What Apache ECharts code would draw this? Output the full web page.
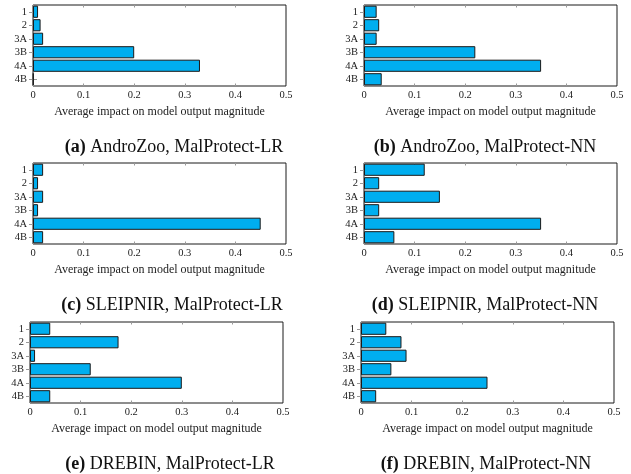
<!DOCTYPE html>
<html>
<head>
<meta charset="utf-8">
<script src="https://cdn.jsdelivr.net/npm/echarts@6/dist/echarts.min.js"></script>
<style>
html,body{margin:0;padding:0;background:#fff;}
#chart{width:631px;height:474px;}
</style>
</head>
<body>
<div id="chart"></div>
<script>
// Categories (top to bottom)
var categories = ['1', '2', '3A', '3B', '4A', '4B'];
var xTicks = [0, 0.1, 0.2, 0.3, 0.4, 0.5];

// Series values per panel
var androZooLR  = [0.010, 0.015, 0.020, 0.200, 0.330, 0.001];
var androZooNN  = [0.025, 0.030, 0.025, 0.220, 0.350, 0.035];
var sleipnirLR  = [0.020, 0.010, 0.020, 0.010, 0.450, 0.020];
var sleipnirNN  = [0.120, 0.030, 0.150, 0.030, 0.350, 0.060];
var drebinLR    = [0.040, 0.175, 0.010, 0.120, 0.300, 0.040];
var drebinNN    = [0.050, 0.080, 0.090, 0.060, 0.250, 0.030];

var panelLetters = ['(a)', '(b)', '(c)', '(d)', '(e)', '(f)'];
var panelCaptions = ['AndroZoo, MalProtect-LR', 'AndroZoo, MalProtect-NN',
                     'SLEIPNIR, MalProtect-LR', 'SLEIPNIR, MalProtect-NN',
                     'DREBIN, MalProtect-LR', 'DREBIN, MalProtect-NN'];
var axisName = 'Average impact on model output magnitude';

var panelData = [androZooLR, androZooNN, sleipnirLR, sleipnirNN, drebinLR, drebinNN];

// Layout (pixels)
var layouts = [
  {left: 33,  top: 5,   cap: 174},
  {left: 364, top: 5,   cap: 485},
  {left: 33,  top: 163, cap: 172},
  {left: 364, top: 163, cap: 485},
  {left: 30,  top: 322, cap: 170},
  {left: 361, top: 322, cap: 486}
];
var W = 253, H = 81;
var FONT = '"Liberation Serif", "DejaVu Serif", serif';

var grids = [], xAxes = [], yAxes = [], series = [], titles = [];
layouts.forEach(function (l, i) {
  grids.push({left: l.left, top: l.top, width: W, height: H, show: true,
    borderColor: '#1a1a1a', borderWidth: 1, backgroundColor: 'transparent', containLabel: false});
  // bottom x axis
  xAxes.push({type: 'value', gridIndex: i, min: xTicks[0], max: xTicks[xTicks.length - 1], interval: 0.1,
    position: 'bottom',
    axisLine: {show: false}, splitLine: {show: false},
    axisTick: {show: true, inside: true, length: 2.5, lineStyle: {color: '#999'}},
    axisLabel: {show: true, margin: 4, color: '#222', fontFamily: FONT, fontSize: 10.5},
    name: axisName, nameLocation: 'middle', nameGap: 20,
    nameTextStyle: {color: '#222', fontFamily: FONT, fontSize: 12}
  });
  // top x axis (ticks only)
  xAxes.push({type: 'value', gridIndex: i, min: xTicks[0], max: xTicks[xTicks.length - 1], interval: 0.1,
    position: 'top',
    axisLine: {show: false}, splitLine: {show: false},
    axisTick: {show: true, inside: true, length: 2.5, lineStyle: {color: '#999'}},
    axisLabel: {show: false}
  });
  // left y axis
  yAxes.push({type: 'category', gridIndex: i, data: categories, inverse: true, position: 'left',
    axisLine: {show: false}, splitLine: {show: false},
    axisTick: {show: true, alignWithLabel: true, interval: 0, length: 4, lineStyle: {color: '#999'}},
    axisLabel: {show: true, interval: 0, hideOverlap: false, margin: 6, color: '#222', fontFamily: FONT, fontSize: 10.5, lineHeight: 11}
  });
  // right y axis (ticks only)
  yAxes.push({type: 'category', gridIndex: i, data: categories, inverse: true, position: 'right',
    axisLine: {show: false}, splitLine: {show: false},
    axisTick: {show: true, alignWithLabel: true, interval: 0, length: 4, lineStyle: {color: '#999'}},
    axisLabel: {show: false}
  });
  series.push({type: 'bar', xAxisIndex: 2 * i, yAxisIndex: 2 * i, data: panelData[i],
    barCategoryGap: '10%',
    itemStyle: {color: '#00AEEF', borderColor: '#1a1a1a', borderWidth: 1},
    silent: true, animation: false
  });
  titles.push({
    text: '{b|' + panelLetters[i] + '} ' + panelCaptions[i],
    left: l.cap, top: l.top + 133, textAlign: 'center', padding: 0,
    textStyle: {fontFamily: FONT, fontSize: 18, fontWeight: 'normal', color: '#111',
      rich: {b: {fontFamily: FONT, fontSize: 18, fontWeight: 'bold', color: '#111'}}}
  });
});

var chart = echarts.init(document.getElementById('chart'), null, {renderer: 'canvas'});
chart.setOption({
  animation: false,
  backgroundColor: '#fff',
  title: titles,
  grid: grids,
  xAxis: xAxes,
  yAxis: yAxes,
  series: series
});
</script>
</body>
</html>
